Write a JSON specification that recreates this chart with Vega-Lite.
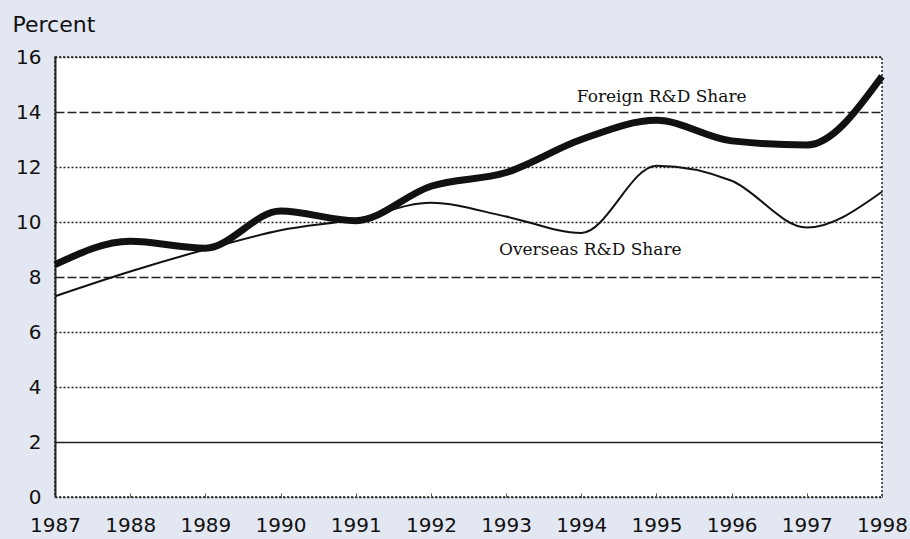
{
  "$schema": "https://vega.github.io/schema/vega-lite/v6.json",
  "autosize": {"type": "none"},
  "width": 827,
  "height": 440,
  "padding": {"left": 55, "top": 57, "right": 28, "bottom": 42},
  "background": "#e3e7f1",
  "config": {
    "view": {"stroke": "#222", "strokeDash": [2, 2], "strokeWidth": 1.5, "fill": "#ffffff"},
    "axis": {"labelFont": "DejaVu Sans", "labelColor": "#111", "titleFont": "DejaVu Sans"}
  },
  "datasets": {
    "series": [
      {"year": 1987, "share": 8.45, "series": "Foreign"},
      {"year": 1988, "share": 9.3, "series": "Foreign"},
      {"year": 1989, "share": 9.05, "series": "Foreign"},
      {"year": 1990, "share": 10.4, "series": "Foreign"},
      {"year": 1991, "share": 10.05, "series": "Foreign"},
      {"year": 1992, "share": 11.3, "series": "Foreign"},
      {"year": 1993, "share": 11.8, "series": "Foreign"},
      {"year": 1994, "share": 13.0, "series": "Foreign"},
      {"year": 1995, "share": 13.7, "series": "Foreign"},
      {"year": 1996, "share": 12.95, "series": "Foreign"},
      {"year": 1997, "share": 12.8, "series": "Foreign"},
      {"year": 1998, "share": 15.3, "series": "Foreign"},
      {"year": 1987, "share": 7.3, "series": "Overseas"},
      {"year": 1988, "share": 8.2, "series": "Overseas"},
      {"year": 1989, "share": 9.0, "series": "Overseas"},
      {"year": 1990, "share": 9.7, "series": "Overseas"},
      {"year": 1991, "share": 10.1, "series": "Overseas"},
      {"year": 1992, "share": 10.7, "series": "Overseas"},
      {"year": 1993, "share": 10.2, "series": "Overseas"},
      {"year": 1994, "share": 9.6, "series": "Overseas"},
      {"year": 1995, "share": 12.05, "series": "Overseas"},
      {"year": 1996, "share": 11.5, "series": "Overseas"},
      {"year": 1997, "share": 9.8, "series": "Overseas"},
      {"year": 1998, "share": 11.1, "series": "Overseas"}
    ],
    "labels": [
      {"year": 1995.07, "share": 14.55, "label": "Foreign R&D Share"},
      {"year": 1994.12, "share": 9.0, "label": "Overseas R&D Share"}
    ]
  },
  "layer": [
    {
      "data": {"name": "series"},
      "transform": [{"filter": "datum.series == 'Overseas'"}],
      "mark": {"type": "line", "color": "#111", "strokeWidth": 2, "interpolate": "monotone"},
      "encoding": {
        "x": {
          "field": "year", "type": "quantitative",
          "scale": {"domain": [1987, 1998], "nice": false, "zero": false},
          "axis": {
            "values": [1987, 1988, 1989, 1990, 1991, 1992, 1993, 1994, 1995, 1996, 1997, 1998],
            "format": "d", "grid": false, "domain": false, "ticks": true, "tickSize": -4, "tickColor": "#555",
            "labelFontSize": 20, "labelPadding": 22, "labelFlush": false, "title": null
          }
        },
        "y": {
          "field": "share", "type": "quantitative",
          "scale": {"domain": [0, 16], "nice": false},
          "axis": {
            "values": [0, 2, 4, 6, 8, 10, 12, 14, 16],
            "grid": true,
            "gridColor": "#222",
            "gridWidth": 1.5,
            "gridDash": {
              "condition": [
                {"test": "datum.value == 14 || datum.value == 8", "value": [9, 3]},
                {"test": "datum.value == 2", "value": []}
              ],
              "value": [2, 2]
            },
            "domain": true, "domainColor": "#222", "domainWidth": 2,
            "ticks": false, "labelFontSize": 20, "labelPadding": 14,
            "title": "Percent", "titleAngle": 0, "titleFontSize": 22, "titleFontWeight": "normal",
            "titleColor": "#111", "titleX": -43, "titleY": -26, "titleAlign": "left", "titleBaseline": "alphabetic"
          }
        }
      }
    },
    {
      "data": {"name": "series"},
      "transform": [{"filter": "datum.series == 'Foreign'"}],
      "mark": {"type": "line", "color": "#111", "strokeWidth": 7, "interpolate": "monotone"},
      "encoding": {
        "x": {"field": "year", "type": "quantitative"},
        "y": {"field": "share", "type": "quantitative"}
      }
    },
    {
      "data": {"name": "labels"},
      "mark": {"type": "text", "font": "DejaVu Serif", "fontSize": 17, "color": "#111", "align": "center", "baseline": "middle"},
      "encoding": {
        "x": {"field": "year", "type": "quantitative"},
        "y": {"field": "share", "type": "quantitative"},
        "text": {"field": "label"}
      }
    }
  ]
}
